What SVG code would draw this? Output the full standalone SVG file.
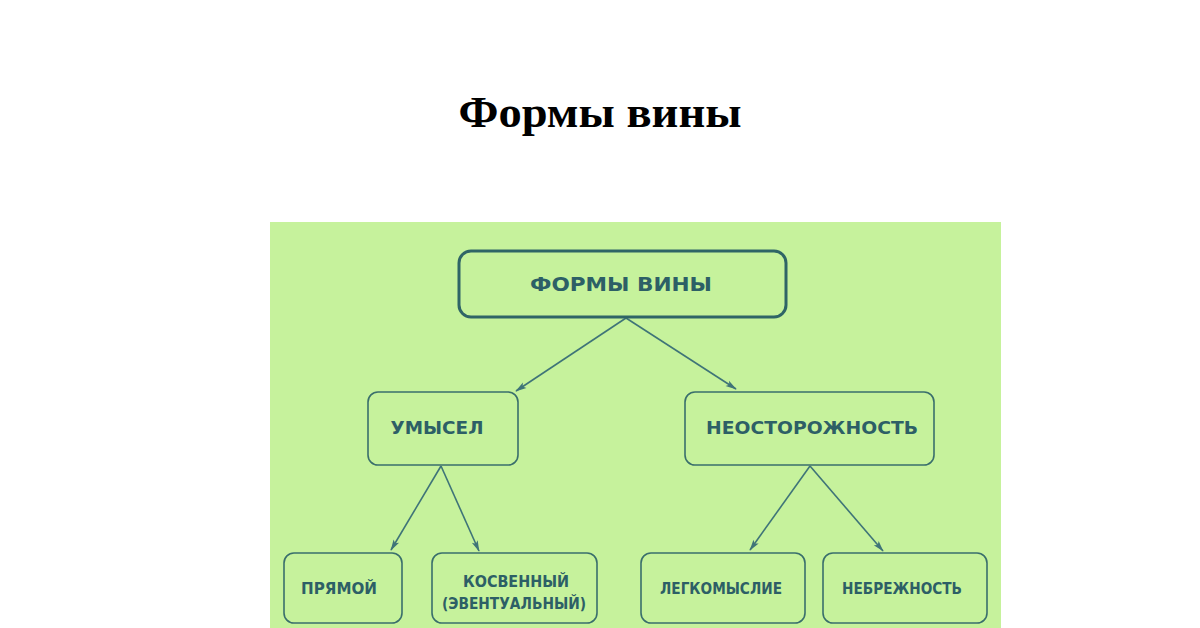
<svg xmlns="http://www.w3.org/2000/svg" width="1200" height="628" viewBox="0 0 1200 628">
<defs>
<style>
.box{fill:none;stroke:#3a6f6c;stroke-width:1.6}
.main{fill:none;stroke:#2f6566;stroke-width:3}
.lbl{font-family:"DejaVu Sans Condensed","DejaVu Sans",sans-serif;fill:#2d5f66;text-anchor:middle;font-weight:bold}
.edge{stroke:#3f7478;stroke-width:1.6;fill:none;marker-end:url(#ah)}
</style>
<marker id="ah" viewBox="0 0 14 10" refX="13" refY="5" markerWidth="12" markerHeight="8" orient="auto" markerUnits="userSpaceOnUse">
<path d="M0,1 L14,5 L0,9 L3,5 Z" fill="#3f7478"/>
</marker>
</defs>
<rect width="1200" height="628" fill="#ffffff"/>
<text x="600" y="127" font-family="Liberation Serif,serif" font-weight="bold" font-size="45" text-anchor="middle" fill="#000" textLength="283" lengthAdjust="spacingAndGlyphs">Формы вины</text>
<rect x="270" y="222" width="731" height="406" fill="#c6f29c"/>
<g id="connectors">
<line class="edge" x1="626" y1="318" x2="516" y2="391"/>
<line class="edge" x1="626" y1="318" x2="736" y2="389"/>
<line class="edge" x1="441" y1="466" x2="391" y2="550"/>
<line class="edge" x1="441" y1="466" x2="479" y2="551"/>
<line class="edge" x1="810" y1="466" x2="750" y2="550"/>
<line class="edge" x1="810" y1="466" x2="883" y2="551"/>
</g>
<g id="n-root">
<rect class="main" x="459" y="251" width="327" height="66" rx="12"/>
<text class="lbl" x="621" y="291" font-size="19" textLength="182" lengthAdjust="spacingAndGlyphs">ФОРМЫ  ВИНЫ</text>
</g>
<g id="n-umysel">
<rect class="box" x="368" y="392" width="150" height="73" rx="10"/>
<text class="lbl" x="437" y="434" font-size="18" textLength="93" lengthAdjust="spacingAndGlyphs">УМЫСЕЛ</text>
</g>
<g id="n-neostor">
<rect class="box" x="685" y="392" width="249" height="73" rx="10"/>
<text class="lbl" x="812" y="434" font-size="18" textLength="212" lengthAdjust="spacingAndGlyphs">НЕОСТОРОЖНОСТЬ</text>
</g>
<g id="n-pryamoi">
<rect class="box" x="284" y="553" width="118" height="70" rx="10"/>
<text class="lbl" x="339" y="594" font-size="15" textLength="76" lengthAdjust="spacingAndGlyphs">ПРЯМОЙ</text>
</g>
<g id="n-kosv">
<rect class="box" x="432" y="553" width="165" height="70" rx="10"/>
<text class="lbl" x="516" y="587" font-size="15" textLength="106" lengthAdjust="spacingAndGlyphs">КОСВЕННЫЙ</text>
<text class="lbl" x="514" y="609" font-size="15" textLength="144" lengthAdjust="spacingAndGlyphs">(ЭВЕНТУАЛЬНЫЙ)</text>
</g>
<g id="n-legk">
<rect class="box" x="641" y="553" width="164" height="70" rx="10"/>
<text class="lbl" x="721" y="594" font-size="15" textLength="122" lengthAdjust="spacingAndGlyphs">ЛЕГКОМЫСЛИЕ</text>
</g>
<g id="n-nebr">
<rect class="box" x="823" y="553" width="164" height="70" rx="10"/>
<text class="lbl" x="902" y="594" font-size="15" textLength="120" lengthAdjust="spacingAndGlyphs">НЕБРЕЖНОСТЬ</text>
</g>
</svg>
